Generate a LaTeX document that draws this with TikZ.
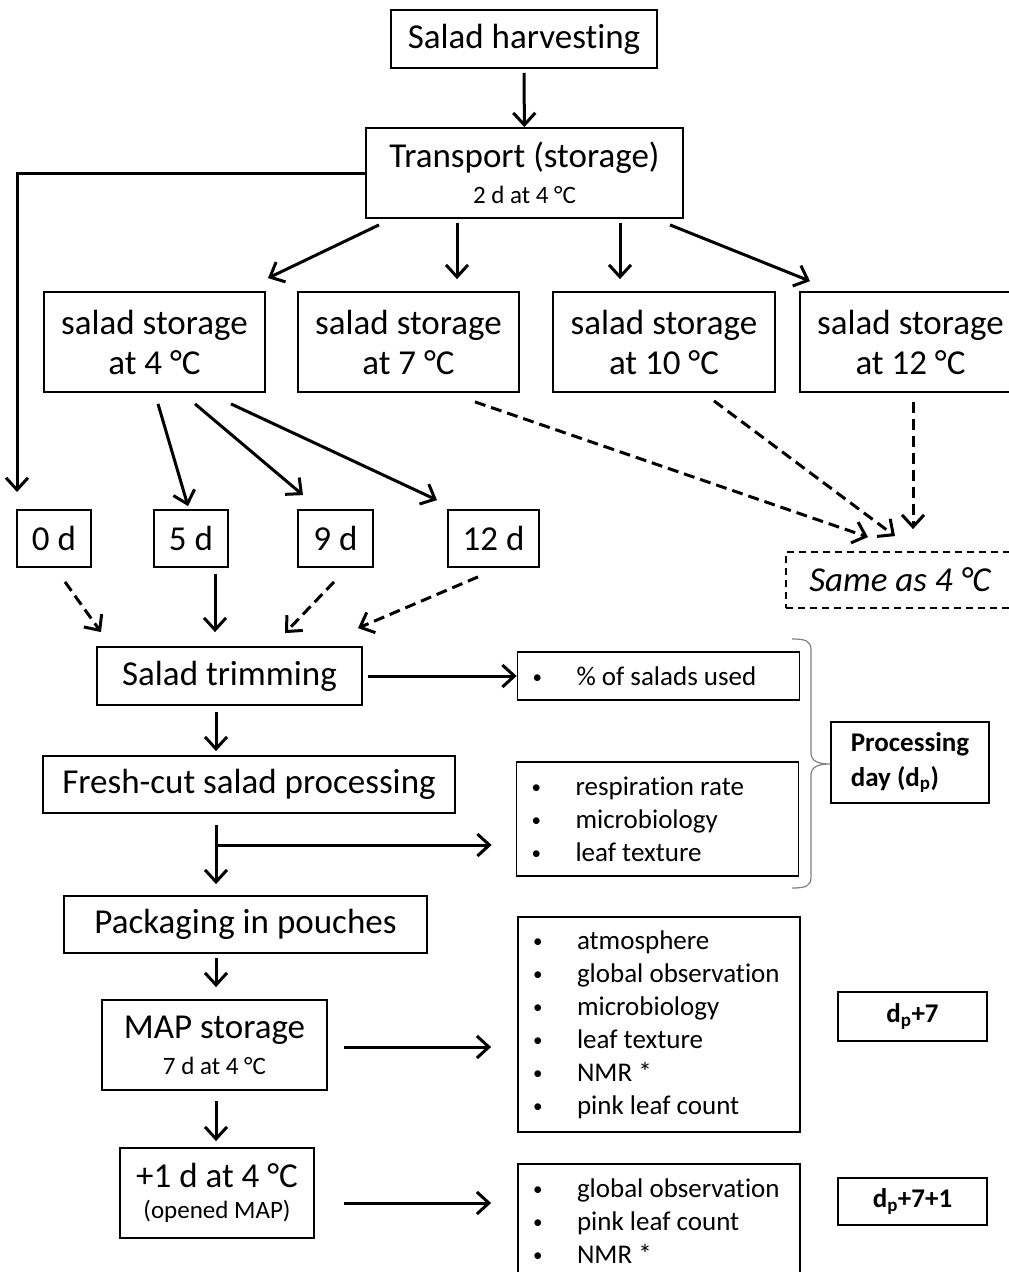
\documentclass[tikz,border=0pt]{standalone}
\usepackage{fontspec}
\setmainfont{Carlito}[Ligatures=NoCommon]
\usetikzlibrary{arrows.meta,calc}

\newcommand\bigtxt{\fontsize{35}{40}\selectfont}
\newcommand\smalltxt{\fontsize{25}{30}\selectfont}
\newcommand\listtxt{\fontsize{27}{33}\selectfont}
\newcommand\itm[1]{\makebox[44pt][l]{\raisebox{1.5pt}{\fontsize{19}{19}\selectfont •}}#1}

\begin{document}
\begin{tikzpicture}[
    x=1pt, y=-1pt,
    box/.style={rectangle, draw, line width=1.8pt, inner sep=0pt, align=center, font=\bigtxt},
    listbox/.style={rectangle, draw, line width=1.8pt, inner xsep=15pt, inner ysep=0pt, text width=252pt, align=flush left, font=\listtxt},
    daybox/.style={rectangle, draw, line width=1.8pt, inner sep=0pt, font=\listtxt\bfseries},
    arrow/.style={-{Straight Barb[length=12pt,width=22pt]}, line width=3pt},
    dasharrow/.style={arrow, dash pattern=on 11pt off 6pt},
]
\useasboundingbox (0,0) rectangle (1009,1272);
\clip (0,0) rectangle (1009,1272);

% Harvest and transport
\node[box, minimum width=266pt, minimum height=58pt] (harvest) at (524,39) {Salad harvesting};
\node[box, minimum width=317pt, minimum height=90pt] (transport) at (524.5,173) {Transport (storage)\\[-4pt]{\smalltxt 2 d at 4 °C}};

% Storage temperatures
\node[box, minimum width=221pt, minimum height=100pt] (s4c) at (154.5,342) {salad storage\\at 4 °C};
\node[box, minimum width=221pt, minimum height=100pt] (s7c) at (408.5,342) {salad storage\\at 7 °C};
\node[box, minimum width=222pt, minimum height=100pt] (s10c) at (664,342) {salad storage\\at 10 °C};
\node[box, minimum width=221pt, minimum height=100pt] (s12c) at (910.5,342) {salad storage\\at 12 °C};

% Storage durations
\node[box, minimum width=74pt, minimum height=57pt] (d0) at (54,538.5) {0 d};
\node[box, minimum width=74pt, minimum height=57pt] (d5) at (191,538.5) {5 d};
\node[box, minimum width=75pt, minimum height=57pt] (d9) at (335.5,538.5) {9 d};
\node[box, minimum width=91pt, minimum height=57pt] (d12) at (493.5,538.5) {12 d};
\node[box, dash pattern=on 7pt off 5pt, minimum width=228pt, minimum height=56pt, font=\bigtxt\itshape] (same) at (900,580) {Same as 4 °C};

% Processing chain
\node[box, minimum width=265pt, minimum height=58pt] (trim) at (229.5,676) {Salad trimming};
\node[box, minimum width=412pt, minimum height=57pt] (fresh) at (249,784.5) {Fresh-cut salad processing};
\node[box, minimum width=363pt, minimum height=57pt] (pack) at (245.5,924.5) {Packaging in pouches};
\node[box, minimum width=225pt, minimum height=90pt] (map) at (214.5,1045) {MAP storage\\[-4pt]{\smalltxt 7 d at 4 °C}};
\node[box, minimum width=194pt, minimum height=90pt] (plus1) at (217,1193) {+1 d at 4 °C\\[-9pt]{\smalltxt (opened MAP)}};

% Measurements
\node[listbox, minimum height=48pt] (pct) at (658.5,676) {\itm{\% of salads used}};
\node[listbox, minimum height=114pt] (resp) at (657.5,819) {\itm{respiration rate}\\\itm{microbiology}\\\itm{leaf texture}};
\node[listbox, minimum height=215pt] (atm) at (659,1024.5) {\itm{atmosphere}\\\itm{global observation}\\\itm{microbiology}\\\itm{leaf texture}\\\itm{NMR *}\\\itm{pink leaf count}};
\node[listbox, minimum height=114pt] (glob) at (659,1221) {\itm{global observation}\\\itm{pink leaf count}\\\itm{NMR *}};

% Sampling days
\node[daybox, minimum width=158pt, minimum height=81pt, align=left] (pday) at (910,762.5) {Processing\\[2pt]day (d\textsubscript{p})};
\node[daybox, minimum width=149pt, minimum height=49pt] (dp7) at (912.5,1016.5) {d\textsubscript{p}+7};
\node[daybox, minimum width=149pt, minimum height=47pt] (dp71) at (912.5,1201.5) {d\textsubscript{p}+7+1};

\coordinate (spine) at (216,0);
\coordinate (branch) at (216,845);
\coordinate (turn) at (17,492);

% Arrows
\draw[arrow, shorten <=4pt] (harvest) -- (transport);
\draw[arrow] (transport.west) -| (turn);
\draw[arrow] ($(transport.south)+(-145.5,6)$) -- ($(s4c.north)+(113.5,-13)$);
\draw[arrow] ($(transport.south)+(-67.5,4)$) -- ($(s7c.north)+(48.5,-12)$);
\draw[arrow] ($(transport.south)+(95.5,4)$) -- ($(s10c.north)+(-44,-12)$);
\draw[arrow] ($(transport.south)+(145.5,6)$) -- ($(s12c.north)+(-100.5,-10)$);

\draw[arrow] ($(s4c.south)+(3.5,11)$) -- ($(d5.north)+(-3,-3)$);
\draw[arrow] ($(s4c.south)+(40.5,11)$) -- ($(d9.north)+(-32.5,-14)$);
\draw[arrow] ($(s4c.south)+(76.5,11)$) -- ($(d12.north)+(-56.5,-9)$);

\draw[dasharrow] ($(s7c.south)+(66.5,9)$) -- ($(same.north)+(-32,-14)$);
\draw[dasharrow] ($(s10c.south)+(50,8)$) -- ($(same.north)+(-5,-15)$);
\draw[dasharrow] ($(s12c.south)+(2.5,9)$) -- ($(same.north)+(13,-22)$);

\draw[dasharrow] ($(d0.south)+(11,14)$) -- ($(trim.north)+(-128.5,-14)$);
\draw[arrow] ($(d5.south)+(24,6)$) -- ($(trim.north)+(-14.5,-14)$);
\draw[dasharrow] ($(d9.south)+(-1.5,14)$) -- ($(trim.north)+(55.5,-13)$);
\draw[dasharrow] ($(d12.south)+(-15.5,9)$) -- ($(trim.north)+(128.5,-18)$);

\draw[arrow, shorten <=5pt] (trim.east) -- (pct.west);
\draw[arrow, shorten <=6pt, shorten >=4pt] (trim.south -| spine) -- (fresh.north -| spine);
\draw[arrow, shorten <=11pt, shorten >=11pt] (fresh.south -| spine) -- (pack.north -| spine);
\draw[arrow, shorten >=24pt] (branch) -- (branch -| resp.west);
\draw[arrow, shorten <=4pt, shorten >=12pt] (pack.south -| spine) -- (map.north -| spine);
\draw[arrow, shorten <=10pt, shorten >=6pt] (map.south -| spine) -- (plus1.north -| spine);
\draw[arrow, shorten <=16pt, shorten >=26pt] ([yshift=-2pt]map.east) -- ([yshift=-2pt]map.east -| atm.west);
\draw[arrow, shorten <=29pt, shorten >=26pt] ([yshift=-10pt]plus1.east) -- ([yshift=-10pt]plus1.east -| glob.west);

% Processing day brace
\draw[gray, line width=1.2pt] (792,639) .. controls (806,639) and (811,641) .. (811,650)
    -- (811,753) .. controls (811,761) and (818,764) .. (830,764)
    .. controls (818,764) and (811,767) .. (811,775)
    -- (811,877) .. controls (811,886) and (806,888) .. (792,888);
\end{tikzpicture}
\end{document}
